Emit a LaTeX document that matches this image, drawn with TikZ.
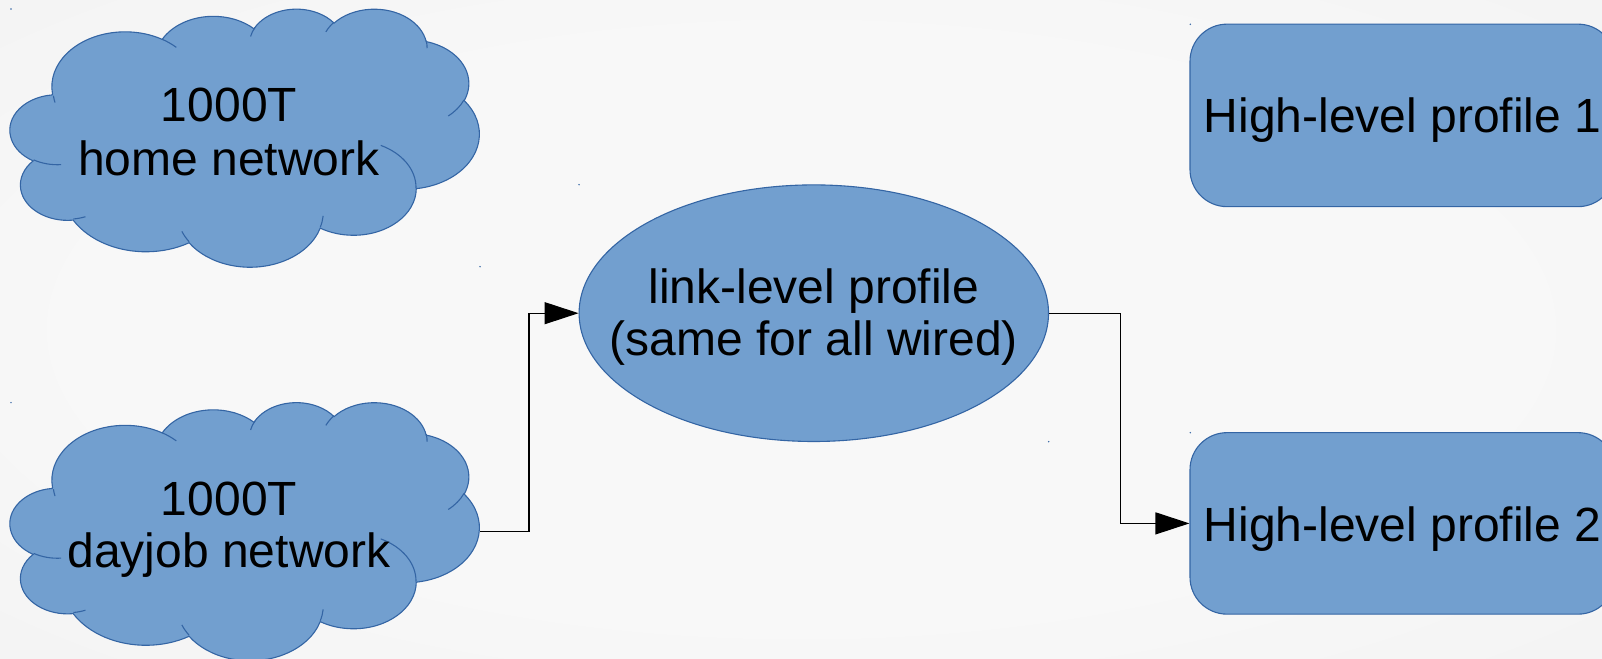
\documentclass[tikz,border=0pt]{standalone}
\usepackage{fontspec}
\setmainfont{Liberation Sans}
\usetikzlibrary{arrows.meta,shapes.geometric}

\definecolor{shapefill}{HTML}{729FCF}
\definecolor{shapeline}{HTML}{3465A4}
\definecolor{bgA}{HTML}{F8F8F8}
\definecolor{bgB}{HTML}{EFEFEF}
\definecolor{bgC}{HTML}{E7E7E7}

% soft page glow
\pgfdeclareradialshading{bgglow}{\pgfpoint{0bp}{0bp}}{%
  color(0bp)=(bgA); color(22bp)=(bgA); color(50bp)=(bgB); color(72bp)=(bgC)}

% ---- cloud outline built from elliptical arcs (43200 x 43200 design grid) ----
\def\cloudw{469}
\def\cloudh{258}
% visual angle on the design grid (y-down, clockwise degrees)
% -> parametric TikZ angle (y-up); \cldgx, \cldgy are the grid radii
\newcommand\cldconv[1]{%
  \pgfmathsetmacro\cldphi{-(#1)}%
  \pgfmathsetmacro\cldres{atan2(\cldgx*sin(\cldphi),\cldgy*cos(\cldphi))}%
  \pgfmathsetmacro\cldd{\cldres-\cldphi}%
  \pgfmathsetmacro\cldd{\cldd-360*round(\cldd/360)}%
  \pgfmathsetmacro\cldres{\cldphi+\cldd}}
% #1 name, #2 x radius, #3 y radius (grid units), #4 start angle, #5 sweep
\newcommand\cldprep[5]{%
  \def\cldgx{#2}\def\cldgy{#3}%
  \pgfmathsetmacro\cldrx{#2/432*\cloudw/100}%
  \pgfmathsetmacro\cldry{#3/432*\cloudh/100}%
  \cldconv{#4}\let\cldts\cldres
  \cldconv{(#4)+(#5)}\let\cldte\cldres
  \expandafter\xdef\csname cld#1\endcsname{arc[start angle=\cldts, end angle=\cldte, x radius=\cldrx pt, y radius=\cldry pt]}}
% point of the design grid, given in tenths of grid units
\newcommand\cp[2]{({#1/432*\cloudw/10},{-#2/432*\cloudh/10})}

\cldprep{A}{6753}{9190}{-190.4874833}{123.7805333}
\cldprep{B}{5333}{7267}{-144.1023833}{89.9452333}
\cldprep{C}{4365}{5945}{-145.8079167}{99.7230167}
\cldprep{D}{4857}{6595}{-130.9860667}{117.2417333}
\cldprep{E}{5333}{7273}{-78.7088833}{109.0269167}
\cldprep{F}{6775}{9220}{-46.26725}{130.269}
\cldprep{G}{5785}{7867}{0.6250167}{114.0333333}
\cldprep{H}{6752}{9215}{22.4516}{115.17255}
\cldprep{I}{7720}{10543}{66.2426333}{75.7110167}
\cldprep{J}{4360}{5918}{-274.9420833}{146.7355667}
\cldprep{K}{4345}{5945}{-246.8285}{152.51885}
\cldprep{Ia}{4345}{5945}{86.742}{26.4295}
\cldprep{Ib}{4360}{5918}{73.6104667}{11.4474667}
\cldprep{Ic}{6752}{9215}{137.62415}{14.0811}
\cldprep{Id}{6752}{9215}{6.4532667}{15.99835}
\cldprep{Ie}{5785}{7867}{-70.29235}{70.9173667}
\cldprep{If}{5333}{7273}{30.3180333}{27.7515}
\cldprep{Ig}{4857}{6595}{-13.7443333}{14.8597333}
\cldprep{Ih}{4857}{6595}{-149.18145}{18.1945667}
\cldprep{Ii}{4365}{5945}{-163.4942667}{19.5133167}
\cldprep{Ij}{6753}{9190}{-66.70695}{12.31935}
\cldprep{Ik}{6753}{9190}{162.0371667}{9.6224833}

% cloud with its frame's top-left corner at (#1,#2)
\newcommand\drawcloud[2]{%
  \begin{scope}[shift={(#1,#2)}]
    \filldraw[shapebody] \cp{390}{1437} \cldA \cldB \cldC \cldD \cldE \cldF
      \cldG \cldH \cldI \cldJ \cldK -- cycle;
    \draw[shapeedge] \cp{469.3}{2617.7} \cldIa \cp{692.8}{3489.9} \cldIb
      \cp{1647.8}{3909} \cldIc \cp{2882.7}{3475.1} \cldId
      \cp{3412.9}{2295.4} \cldIe \cp{4179.8}{1535.4} \cldIf
      \cp{3832.4}{542.6} \cldIg \cp{2907.8}{395.2} \cldIh
      \cp{2214.1}{472} \cldIi \cp{1400}{519.2} \cldIj
      \cp{412.7}{1578.9} \cldIk;
  \end{scope}}

\tikzset{
  shapebody/.style={fill=shapefill, draw=shapeline, line width=1.1pt},
  shapeedge/.style={draw=shapeline, line width=1.1pt},
  lbl/.style={font=\fontsize{48}{55}\selectfont, text=black, inner sep=0pt},
  conn/.style={draw=black, line width=1.1pt, -{Triangle[length=34pt, width=22pt]}},
  framedot/.style={fill=shapeline}
}

\begin{document}
\begin{tikzpicture}[x=1pt, y=1pt]
  \useasboundingbox (0,0) rectangle (1602,658);
  \shade[shading=bgglow] (0,0) rectangle (1602,658);

  % network clouds
  \drawcloud{10.2}{649.7}
  \drawcloud{10.2}{256.2}
  \node[lbl, anchor=base] (homeA) at (229, 658-121.7) {1000T};
  \node[lbl, anchor=base] (homeB) at (229, 658-175.2) {home network};
  \node[lbl, anchor=base] (jobA) at (229, 658-515.7) {1000T};
  \node[lbl, anchor=base] (jobB) at (229, 658-567.5) {dayjob network};
  \coordinate (jobR) at (480, 658-531.7);

  % link-level profile
  \node[ellipse, shapebody, minimum width=469.4pt, minimum height=256.6pt,
        inner sep=0pt] (link) at (813.8, 658-313.2) {};
  \node[lbl, anchor=base] (linkA) at (813.8, 658-303.3) {link-level profile};
  \node[lbl, anchor=base] (linkB) at (813.8, 658-355.8) {(same for all wired)};

  % high-level profiles
  \node[rectangle, rounded corners=37pt, shapebody, minimum width=425pt,
        minimum height=182.5pt, inner sep=0pt] (hl1) at (1402.5, 658-115.4) {};
  \node[rectangle, rounded corners=37pt, shapebody, minimum width=425pt,
        minimum height=181.5pt, inner sep=0pt] (hl2) at (1402.5, 658-523.4) {};
  \node[lbl, anchor=base] (hl1t) at (1402.5, 658-132.7) {High-level profile 1};
  \node[lbl, anchor=base] (hl2t) at (1402.5, 658-541.7) {High-level profile 2};

  % connectors
  \draw[conn] (jobR) -- ++(49,0) |- (link.west);
  \draw[conn] (link.east) -- ++(71,0) |- (hl2.west);

  % frame corner marks
  \fill[framedot] (11,658-9) circle (0.8);
  \fill[framedot] (480,658-266.7) circle (0.8);
  \fill[framedot] (11,658-402.7) circle (0.8);
  \fill[framedot] (579,658-184.7) circle (0.8);
  \fill[framedot] (1048.7,658-441.7) circle (0.8);
  \fill[framedot] (1190.3,658-24.3) circle (0.8);
  \fill[framedot] (1190.3,658-432.7) circle (0.8);
\end{tikzpicture}
\end{document}
